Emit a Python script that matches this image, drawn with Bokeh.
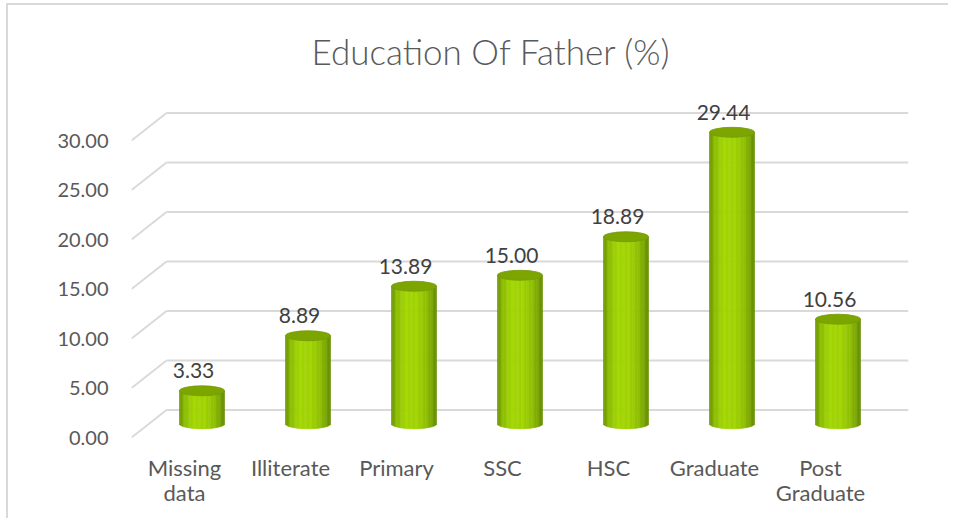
import numpy as np
from bokeh.plotting import figure
from bokeh.models import Range1d, FixedTicker, ColumnDataSource, NumeralTickFormatter
from bokeh.core.properties import value
from bokeh.embed import file_html
from bokeh.resources import INLINE

# ---- data ----
categories = ["Missing data", "Illiterate", "Primary", "SSC", "HSC", "Graduate", "Post Graduate"]
tick_labels = ["Missing\ndata", "Illiterate", "Primary", "SSC", "HSC", "Graduate", "Post\nGraduate"]
percent = [3.33, 8.89, 13.89, 15.00, 18.89, 29.44, 10.56]
y_ticks = [0, 5, 10, 15, 20, 25, 30]
title_text = "Education Of Father (%)"

# ---- geometry (pixels per unit) ----
PX_X = 106.0
PX_Y = 9.9
FRAME_W = 777
FRAME_H = 353
DEPTH_X = 35.0 / PX_X
DEPTH_Y = 27.5 / PX_Y
Y_START = -0.1
X_END = FRAME_W / PX_X
HALF_W = 22.5 / PX_X
ELL_B = 5.0 / PX_Y

FONT = "Lato"
GRID = "#d9d9d9"

p = figure(frame_width=FRAME_W, frame_height=FRAME_H,
           x_range=Range1d(0, X_END), y_range=Range1d(Y_START, Y_START + FRAME_H / PX_Y),
           output_backend="svg", toolbar_location=None,
           min_border_left=123, min_border_right=40, min_border_top=80, min_border_bottom=80,
           title=title_text)
p.styles = {"border-left": "2px solid #d9d9d9", "border-top": "2px solid #d9d9d9",
            "margin-left": "6px", "margin-top": "3px"}
p.title.text_font = "Lato Light"
p.title.text_font_size = "35px"
p.title.text_font_style = "normal"
p.title.text_color = "#595959"
p.title.align = "left"
p.title.offset = 180
p.title.standoff = 28

p.xgrid.visible = False
p.ygrid.visible = False
p.outline_line_color = None
p.background_fill_color = "white"
p.border_fill_color = "white"

# gridlines: back wall + side diagonals
n = len(y_ticks)
p.segment(x0=[DEPTH_X] * n, y0=[t + DEPTH_Y for t in y_ticks],
          x1=[X_END] * n, y1=[t + DEPTH_Y for t in y_ticks],
          line_color=GRID, line_width=2)
p.segment(x0=[0] * n, y0=y_ticks, x1=[DEPTH_X] * n, y1=[t + DEPTH_Y for t in y_ticks],
          line_color=GRID, line_width=2)

# gradient colours across the cylinder
stops_t = [-1.0, -0.75, -0.4, 0.15, 0.55, 0.85, 1.0]
stops_c = [(0x6a, 0x92, 0x00), (0x8c, 0xbd, 0x00), (0xa2, 0xd6, 0x00), (0xa0, 0xd4, 0x00),
           (0x8f, 0xbf, 0x00), (0x76, 0xa0, 0x00), (0x62, 0x89, 0x00)]

def grad(t):
    r = int(np.interp(t, stops_t, [c[0] for c in stops_c]))
    g = int(np.interp(t, stops_t, [c[1] for c in stops_c]))
    b = int(np.interp(t, stops_t, [c[2] for c in stops_c]))
    return "#%02x%02x%02x" % (r, g, b)

N = 36
edges = np.linspace(-1, 1, N + 1)
L, R, B, T, C = [], [], [], [], []
cx_list, top_list = [], []
base = DEPTH_Y / 2
for i, v in enumerate(percent):
    cx = i + 0.5 + DEPTH_X / 2
    top = base + v
    cx_list.append(cx)
    top_list.append(top)
    for k in range(N):
        tc = 0.5 * (edges[k] + edges[k + 1])
        L.append(cx + HALF_W * edges[k])
        R.append(cx + HALF_W * edges[k + 1])
        B.append(base - ELL_B * np.sqrt(max(0.0, 1 - tc * tc)))
        T.append(top)
        C.append(grad(tc))

src = ColumnDataSource(dict(left=L, right=R, bottom=B, top=T, color=C))
p.quad(left="left", right="right", bottom="bottom", top="top", source=src,
       fill_color="color", line_color="color", line_width=0.6)
p.ellipse(x=cx_list, y=top_list, width=2 * HALF_W, height=2 * ELL_B,
          fill_color="#7da500", line_color="#74990a", line_width=0.8)

# data labels
p.text(x=[i + 0.5 + 0.085 for i in range(len(percent))], y=[t + 2.0 for t in top_list],
       text=["%.2f" % v for v in percent], text_align="center", text_baseline="middle",
       text_font=value(FONT), text_font_size="21px", text_color="#404040")

# y axis
p.yaxis.ticker = FixedTicker(ticks=y_ticks)
p.yaxis.formatter = NumeralTickFormatter(format="0.00")
p.yaxis.axis_line_color = None
p.yaxis.major_tick_line_color = None
p.yaxis.minor_tick_line_color = None
p.yaxis.major_label_standoff = 17
p.yaxis.major_label_text_font = FONT
p.yaxis.major_label_text_font_size = "20px"
p.yaxis.major_label_text_color = "#595959"

# x axis
p.xaxis.ticker = FixedTicker(ticks=[i + 0.5 for i in range(len(categories))])
p.xaxis.major_label_overrides = {i + 0.5: lab for i, lab in enumerate(tick_labels)}
p.xaxis.axis_line_color = None
p.xaxis.major_tick_line_color = None
p.xaxis.minor_tick_line_color = None
p.xaxis.major_label_standoff = 9
p.xaxis.major_label_text_font = FONT
p.xaxis.major_label_text_font_size = "22px"
p.xaxis.major_label_text_line_height = 0.95
p.xaxis.major_label_text_color = "#595959"

open("out.html", "w").write(file_html(p, INLINE))
